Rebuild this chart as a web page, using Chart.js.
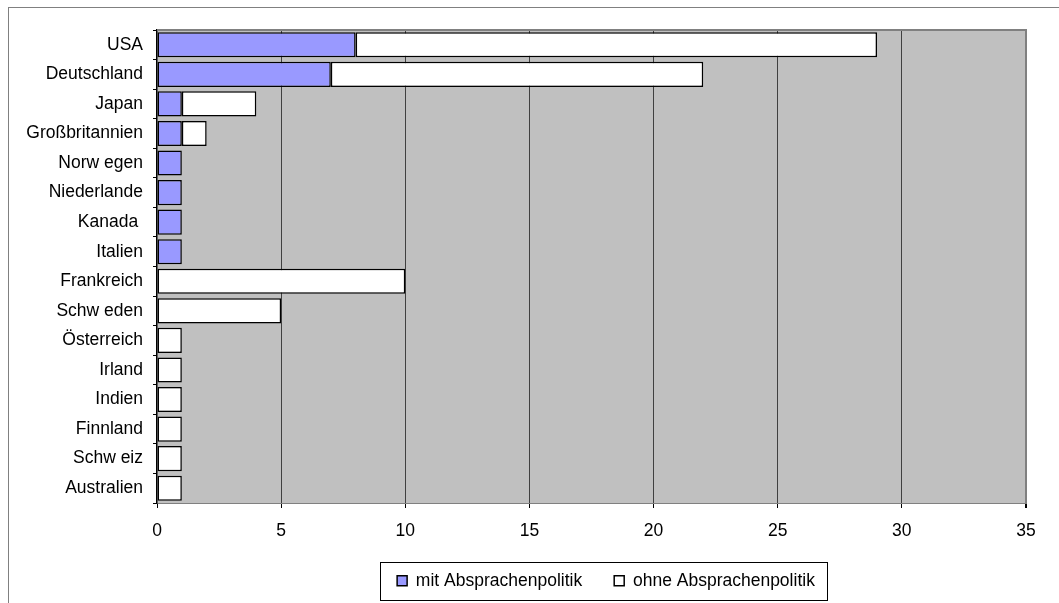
<!DOCTYPE html>
<html>
<head>
<meta charset="utf-8">
<script src="https://cdn.jsdelivr.net/npm/chart.js@4"></script>
<style>
  html, body { margin: 0; padding: 0; background: #fff; }
  canvas { display: block; }
</style>
</head>
<body>
<canvas id="chart" width="1059" height="603"></canvas>
<script>
const laender = ['USA', 'Deutschland', 'Japan', 'Großbritannien', 'Norw egen', 'Niederlande', 'Kanada ', 'Italien',
    'Frankreich', 'Schw eden', 'Österreich', 'Irland', 'Indien', 'Finnland', 'Schw eiz', 'Australien'];
const mitAbsprachen  = [8, 7, 1, 1, 1, 1, 1, 1, 0, 0, 0, 0, 0, 0, 0, 0];
const ohneAbsprachen = [21, 15, 3, 1, 0, 0, 0, 0, 10, 5, 1, 1, 1, 1, 1, 1];
const xTicks = [0, 5, 10, 15, 20, 25, 30, 35];

const schrift = { family: "'Liberation Sans', Arial, sans-serif", size: 17.5 };

// leere Segmente gar nicht zeichnen
const ohneNull = arr => arr.map(v => v === 0 ? null : v);

const rahmen = {
    id: 'rahmen',
    beforeDraw(chart) {
        const { ctx, chartArea: a } = chart;
        ctx.save();
        ctx.fillStyle = '#fff';
        ctx.fillRect(0, 0, chart.width, chart.height);
        ctx.strokeStyle = '#808080';
        ctx.lineWidth = 1;
        ctx.strokeRect(8.5, 7.5, chart.width + 20, chart.height + 20);
        ctx.fillStyle = '#c0c0c0';
        ctx.fillRect(a.left, a.top, a.right - a.left, a.bottom - a.top);
        ctx.restore();
    },
    afterLayout(chart) {
        // Legende etwas nach rechts wie im Original
        chart.legend.left += 93;
        chart.legend.right += 93;
    },
    afterDraw(chart) {
        const { ctx, chartArea: a, legend } = chart;
        ctx.save();
        ctx.strokeStyle = '#808080';
        ctx.lineWidth = 2;
        ctx.beginPath();
        ctx.moveTo(a.left, a.top);
        ctx.lineTo(a.right + 1, a.top);
        ctx.stroke();

        const boxes = legend.legendHitBoxes;
        const l = Math.min(...boxes.map(b => b.left)) - 17;
        const r = Math.max(...boxes.map(b => b.left + b.width)) + 12;
        const mitte = boxes[0].top + boxes[0].height / 2;
        ctx.strokeStyle = '#000';
        ctx.lineWidth = 1;
        ctx.strokeRect(Math.round(l) + 0.5, Math.round(mitte - 19) + 0.5, Math.round(r - l), 38);
        ctx.restore();
    }
};

new Chart(document.getElementById('chart'), {
    type: 'bar',
    data: {
        labels: laender,
        datasets: [{
            label: 'mit Absprachenpolitik',
            data: ohneNull(mitAbsprachen),
            backgroundColor: '#9999ff',
            borderColor: '#000',
            borderWidth: 1.5,
            borderSkipped: false
        }, {
            label: 'ohne Absprachenpolitik',
            data: ohneNull(ohneAbsprachen),
            backgroundColor: '#ffffff',
            borderColor: '#000',
            borderWidth: 1.5,
            borderSkipped: false
        }]
    },
    options: {
        indexAxis: 'y',
        responsive: false,
        animation: false,
        layout: { padding: { top: 30, right: 33, bottom: 3.5, left: 0 } },
        datasets: { bar: { barPercentage: 0.85, categoryPercentage: 1 } },
        plugins: {
            tooltip: { enabled: false },
            legend: {
                position: 'bottom',
                labels: {
                    color: '#000',
                    font: schrift,
                    boxWidth: 10,
                    boxHeight: 10,
                    padding: 32
                }
            }
        },
        scales: {
            x: {
                stacked: true,
                min: xTicks[0],
                max: xTicks[xTicks.length - 1],
                afterBuildTicks(scale) {
                    scale.ticks = xTicks.map(v => ({ value: v }));
                },
                afterFit(scale) {
                    scale.height = 603 - 503 - 3.5 - scale.chart.legend.height;
                },
                ticks: { color: '#000', font: schrift, padding: 13, maxRotation: 0 },
                grid: {
                    color: c => c.tick && c.tick.value === 0 ? 'rgba(0,0,0,0)' :
                        (c.tick && c.tick.value === 35 ? '#808080' : '#404040'),
                    lineWidth: c => c.tick && c.tick.value === 35 ? 2 : 1,
                    tickColor: '#000',
                    tickLength: 5
                },
                border: { color: '#808080', width: 1 }
            },
            y: {
                stacked: true,
                afterFit(scale) {
                    scale.width = 157;
                },
                ticks: { color: '#000', font: schrift, padding: 10 },
                grid: {
                    drawOnChartArea: false,
                    offset: true,
                    color: '#000',
                    tickLength: 4
                },
                border: { color: '#000', width: 1.5 }
            }
        }
    },
    plugins: [rahmen]
});
</script>
</body>
</html>
